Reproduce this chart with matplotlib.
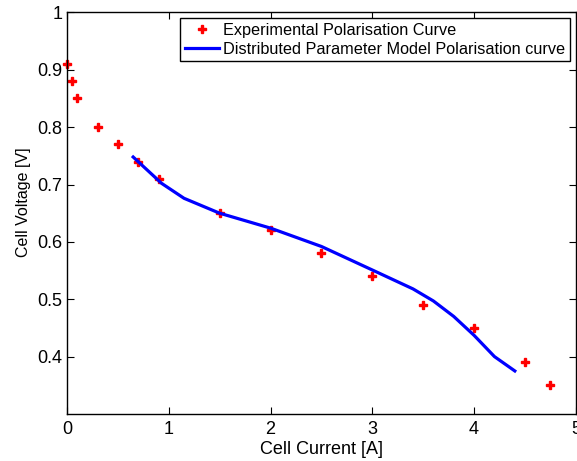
import matplotlib
matplotlib.use("Agg")
import matplotlib.pyplot as plt

plt.rcParams['font.family'] = ['Liberation Sans', 'DejaVu Sans']

exp_current = [0.0, 0.05, 0.1, 0.3, 0.5, 0.7, 0.9, 1.5, 2.0, 2.5, 3.0, 3.5, 4.0, 4.5, 4.75]
exp_voltage = [0.91, 0.88, 0.85, 0.80, 0.77, 0.74, 0.71, 0.65, 0.62, 0.58, 0.54, 0.49, 0.45, 0.39, 0.35]

model_current = [0.65, 0.93, 1.15, 1.5, 2.0, 2.5, 3.0, 3.4, 3.6, 3.8, 4.0, 4.2, 4.4]
model_voltage = [0.748, 0.702, 0.676, 0.65, 0.624, 0.592, 0.551, 0.518, 0.497, 0.470, 0.437, 0.400, 0.375]

xticks = [0, 1, 2, 3, 4, 5]
yticks = [0.4, 0.5, 0.6, 0.7, 0.8, 0.9, 1.0]
ytick_labels = ['0.4', '0.5', '0.6', '0.7', '0.8', '0.9', '1']

fig = plt.figure(figsize=(5.77, 4.61), dpi=100)
ax = fig.add_axes([0.1161, 0.102, 0.882, 0.871])

ax.plot(exp_current, exp_voltage, linestyle='none', marker='P', color='red',
        markersize=5.5, markeredgewidth=1.0, markeredgecolor='red', clip_on=False,
        label='Experimental Polarisation Curve')
ax.plot(model_current, model_voltage, color='blue', linewidth=2.3,
        label='Distributed Parameter Model Polarisation curve')

ax.set_xlim(0, 5)
ax.set_ylim(0.3, 1.0)
ax.set_xticks(xticks)
ax.set_xticklabels([str(t) for t in xticks])
ax.set_yticks(yticks)
ax.set_yticklabels(ytick_labels)
ax.tick_params(direction='in', top=True, right=True, labelsize=13, length=5, width=0.8)
ax.tick_params(axis='x', pad=5)
for s in ax.spines.values():
    s.set_linewidth(1.0)

ax.set_xlabel('Cell Current [A]', fontsize=13, labelpad=2)
ax.set_ylabel('Cell Voltage [V]', fontsize=11.5)
ax.yaxis.set_label_coords(-0.070, 0.527)

leg = ax.legend(loc='upper right', fontsize=11.7, frameon=True, fancybox=False,
                edgecolor='black', framealpha=1, borderpad=0.3, handlelength=2.1,
                handletextpad=0.25, labelspacing=0.22, borderaxespad=0.35)
leg.get_frame().set_linewidth(1.0)

fig.savefig('out.png', dpi=100)
